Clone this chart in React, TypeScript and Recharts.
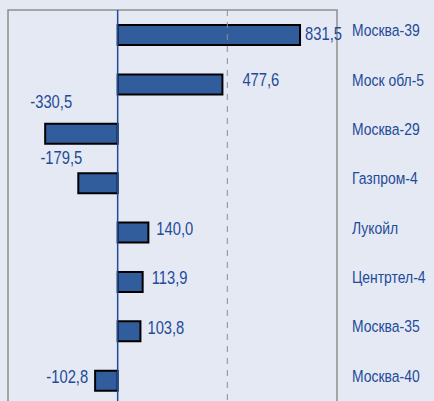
import React from 'react';
import { BarChart, Bar, XAxis, YAxis, ReferenceLine, ReferenceArea, LabelList } from 'recharts';

const categories = ['Москва-39', 'Моск обл-5', 'Москва-29', 'Газпром-4', 'Лукойл', 'Центртел-4', 'Москва-35', 'Москва-40'];
const values = [831.5, 477.6, -330.5, -179.5, 140.0, 113.9, 103.8, -102.8];
const xTicks = [-500, 0, 500, 1000];

const data = categories.map((name, i) => ({ name, value: values[i] }));

// per-label placement tweaks (style only)
const labelNudge: { dx: number; dy: number; anchor: 'start' | 'middle' | 'end' }[] = [
  { dx: 5, dy: -2, anchor: 'start' },
  { dx: 20, dy: -5, anchor: 'start' },
  { dx: 6, dy: -32, anchor: 'middle' },
  { dx: -17, dy: -26, anchor: 'middle' },
  { dx: 8, dy: -4, anchor: 'start' },
  { dx: 9, dy: -4, anchor: 'start' },
  { dx: 7, dy: -4, anchor: 'start' },
  { dx: -7, dy: -4, anchor: 'end' },
];

const BG = '#e5e9f3';
const TXT = '#1f4b99';
const BAR = '#325d9c';
const GRID = '#8f8f8f';
const FONT = '"Liberation Sans", Arial, sans-serif';
const NARROW = 0.82;

const fmt = (v: number) => v.toFixed(1).replace('.', ',');

const ValueLabel = (props: any) => {
  const { x, y, width, height, value, index } = props;
  const a = x;
  const b = x + width;
  const end = value >= 0 ? Math.max(a, b) : Math.min(a, b);
  const cy = y + height / 2;
  const n = labelNudge[index] || { dx: 5, dy: 0, anchor: 'start' };
  return (
    <text
      transform={`translate(${end + n.dx},${cy + n.dy}) scale(${NARROW},1)`}
      x={0}
      y={0}
      textAnchor={n.anchor}
      dominantBaseline="central"
      fill={TXT}
      fontSize={18}
      fontFamily={FONT}
    >
      {fmt(value)}
    </text>
  );
};

const CatTick = (props: any) => {
  const { x, y, payload } = props;
  return (
    <text
      transform={`translate(${x},${y - 4.5}) scale(${NARROW},1)`}
      x={0}
      y={0}
      textAnchor="start"
      dominantBaseline="central"
      fill={TXT}
      fontSize={17}
      fontFamily={FONT}
    >
      {payload.value}
    </text>
  );
};

export default function App() {
  return (
    <div style={{ position: 'absolute', left: 0, top: 0, width: 434, height: 401, background: BG, overflow: 'hidden' }}>
      <BarChart
        width={434}
        height={420}
        data={data}
        layout="vertical"
        margin={{ top: 10, right: 0, bottom: 15, left: 8 }}
        barCategoryGap={0}
        barSize={20}
      >
        <XAxis
          type="number"
          orientation="top"
          domain={[-500, 1000]}
          ticks={xTicks}
          height={0}
          tick={false}
          tickLine={false}
          axisLine={false}
        />
        <YAxis
          type="category"
          dataKey="name"
          orientation="right"
          width={97}
          axisLine={false}
          tickLine={false}
          tickSize={0}
          tickMargin={15}
          tick={<CatTick />}
          interval={0}
        />
        <ReferenceArea x1={-500} x2={1000} fill="none" stroke={GRID} strokeWidth={1.5} ifOverflow="visible" />
        <ReferenceLine x={500} stroke={GRID} strokeWidth={1} strokeDasharray="6 6" />
        <Bar dataKey="value" fill={BAR} stroke="#000" strokeWidth={2} isAnimationActive={false}>
          <LabelList dataKey="value" content={<ValueLabel />} />
        </Bar>
        <ReferenceLine x={0} stroke={TXT} strokeWidth={1.5} />
      </BarChart>
    </div>
  );
}
